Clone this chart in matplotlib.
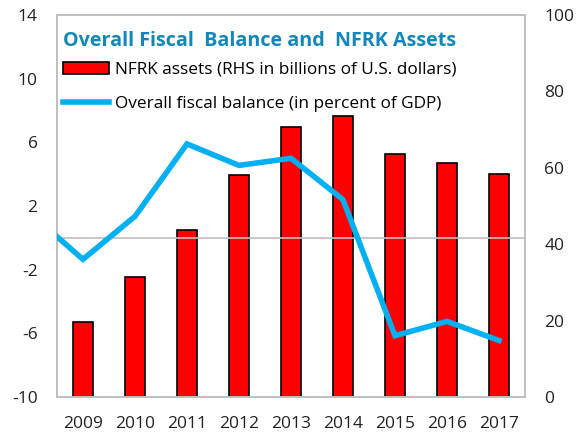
import matplotlib
matplotlib.use("Agg")
from matplotlib import pyplot as plt
from matplotlib.patches import Patch
from matplotlib.lines import Line2D

plt.rcParams['font.family'] = ['Open Sans', 'DejaVu Sans']
plt.rcParams['axes.unicode_minus'] = False

# data
years = [2008, 2009, 2010, 2011, 2012, 2013, 2014, 2015, 2016, 2017]
fiscal_balance = [1.5, -1.35, 1.35, 5.9, 4.55, 5.0, 2.4, -6.15, -5.25, -6.45]
bar_years = [2009, 2010, 2011, 2012, 2013, 2014, 2015, 2016, 2017]
nfrk_assets = [19.5, 31.3, 43.6, 58.0, 70.7, 73.6, 63.5, 61.2, 58.4]

left_ticks = [-10, -6, -2, 2, 6, 10, 14]
right_ticks = [0, 20, 40, 60, 80, 100]

blue = '#00B0F0'
title_color = '#1287B8'
frame = '#BFBFBF'

fig = plt.figure(figsize=(5.79, 4.41), dpi=100)
ax = fig.add_axes([0.0984, 0.0998, 0.8083, 0.8662])
ax2 = ax.twinx()

ax2.bar(bar_years, nfrk_assets, width=0.38, color='#FF0000',
        edgecolor='black', linewidth=1.2)
ax2.set_ylim(0, 100)
ax2.set_yticks(right_ticks)

ax.axhline(0, color=frame, linewidth=1.2, zorder=1)
ax.plot(years, fiscal_balance, color=blue, linewidth=4, zorder=3,
        solid_joinstyle='miter')
ax.set_xlim(2008.5, 2017.5)
ax.set_ylim(-10, 14)
ax.set_yticks(left_ticks)
ax.set_xticks(bar_years)
ax.set_xticklabels([str(y) for y in bar_years])

ax.set_zorder(ax2.get_zorder() + 1)
ax.patch.set_visible(False)

for a in (ax, ax2):
    for s in a.spines.values():
        s.set_color(frame)
        s.set_linewidth(1.2)
    a.tick_params(length=0, labelsize=12.5, colors='#222222')
ax.tick_params(axis='y', pad=14)
ax.tick_params(axis='x', pad=14)
ax2.tick_params(axis='y', pad=14)

ax.text(0.012, 0.932, 'Overall Fiscal  Balance and  NFRK Assets',
        transform=ax.transAxes, color=title_color, fontsize=14.2,
        fontweight='bold', va='center', ha='left')

handles = [Patch(facecolor='#FF0000', edgecolor='black', linewidth=1.2),
           Line2D([], [], color=blue, linewidth=4)]
labels = ['NFRK assets (RHS in billions of U.S. dollars)',
          'Overall fiscal balance (in percent of GDP)']
ax.legend(handles, labels, loc='upper left', bbox_to_anchor=(0.013, 0.878),
          frameon=False, fontsize=12.4, handlelength=2.67, handletextpad=0.35,
          labelspacing=1.05, borderaxespad=0, borderpad=0)

fig.savefig('out.png', dpi=100)
